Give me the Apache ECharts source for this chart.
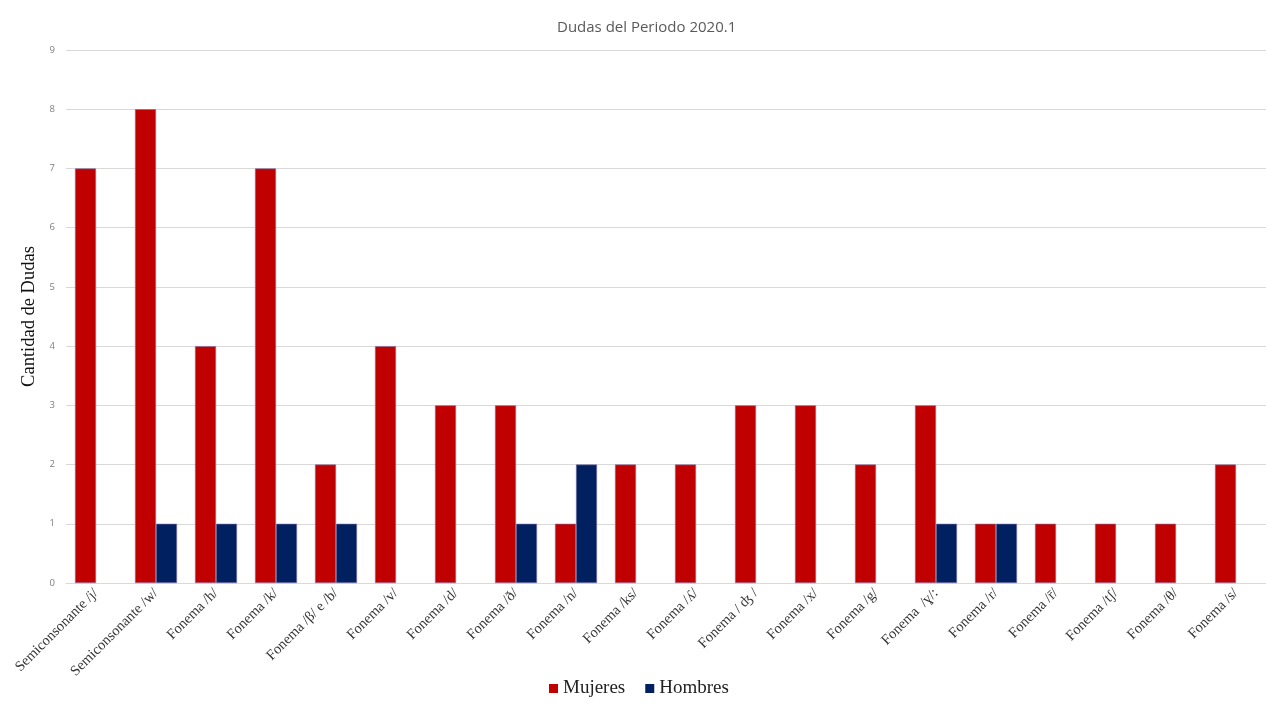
<!DOCTYPE html>
<html>
<head>
<meta charset="utf-8">
<script src="https://cdn.jsdelivr.net/npm/echarts@6/dist/echarts.min.js"></script>
<style>html,body{margin:0;padding:0;background:#fff}#c{width:1266px;height:704px}</style>
</head>
<body>
<div id="c"></div>
<script>
const categories = ["Semiconsonante /j/", "Semiconsonante /w/", "Fonema /h/", "Fonema /k/", "Fonema /β/ e /b/", "Fonema /v/", "Fonema /d/", "Fonema /ð/", "Fonema /n/", "Fonema /ks/", "Fonema /ʎ/", "Fonema / ʤ /", "Fonema /x/", "Fonema /g/", "Fonema  /ɣ/:", "Fonema /r/", "Fonema /r̄/", "Fonema /tʃ/", "Fonema /θ/", "Fonema /s/"];
const mujeres = [7, 8, 4, 7, 2, 4, 3, 3, 1, 2, 2, 3, 3, 2, 3, 1, 1, 1, 1, 2];
const hombres = [null, 1, 1, 1, 1, null, null, 1, 2, null, null, null, null, null, 1, 1, null, null, null, null];
const yTicks = { min: 0, max: 9, interval: 1 };

const chart = echarts.init(document.getElementById('c'), null, { renderer: 'canvas' });
chart.setOption({
  animation: false,
  backgroundColor: '#ffffff',
  title: {
    text: 'Dudas del Periodo 2020.1',
    left: 552, top: 15,
    textStyle: { fontFamily: 'Open Sans', fontSize: 15, fontWeight: 'normal', color: '#595959' }
  },
  legend: {
    bottom: 1, left: 544,
    itemWidth: 9, itemHeight: 9, itemGap: 20,
    icon: 'rect',
    itemStyle: { borderWidth: 0 },
    textStyle: { fontFamily: 'Liberation Serif', fontSize: 19, color: '#222' },
    data: ['Mujeres', 'Hombres']
  },
  grid: { left: 66, right: 0, top: 50, bottom: 121, containLabel: false },
  xAxis: {
    type: 'category',
    data: categories,
    axisLine: { show: true, lineStyle: { color: '#d9d9d9' } },
    axisTick: { show: false },
    axisLabel: {
      interval: 0, rotate: 45, margin: 8,
      fontFamily: 'Liberation Serif', fontSize: 14.5, color: '#333'
    }
  },
  yAxis: {
    type: 'value',
    min: yTicks.min, max: yTicks.max, interval: yTicks.interval,
    name: 'Cantidad de Dudas',
    nameLocation: 'middle', nameGap: 25,
    nameTextStyle: { fontFamily: 'Liberation Serif', fontSize: 18.5, color: '#111' },
    axisLine: { show: false },
    axisTick: { show: false },
    axisLabel: { fontFamily: 'Open Sans', fontSize: 9.5, color: '#7f7f7f', margin: 11 },
    splitLine: { lineStyle: { color: '#d9d9d9', width: 1 } }
  },
  series: [
    {
      name: 'Mujeres', type: 'bar', data: mujeres,
      barWidth: 21, barGap: '0%',
      itemStyle: { color: '#c00000', borderColor: '#7c6ea6', borderWidth: 0.6 }
    },
    {
      name: 'Hombres', type: 'bar', data: hombres,
      barWidth: 21, barGap: '0%',
      itemStyle: { color: '#002060', borderColor: '#7c6ea6', borderWidth: 0.6 }
    }
  ]
});
</script>
</body>
</html>
